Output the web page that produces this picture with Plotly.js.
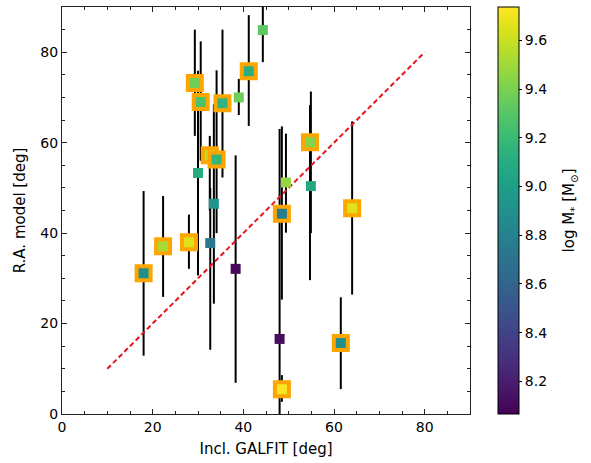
<!DOCTYPE html>
<html>
<head>
<meta charset="utf-8">
<script src="https://cdn.plot.ly/plotly-3.0.1.min.js"></script>
<style>html,body{margin:0;padding:0;background:#fff;}#chart{width:591px;height:463px;}</style>
</head>
<body>
<div id="chart"></div>
<script>
// Inclination from GALFIT [deg]
var inclGalfit = [18.0, 22.3, 28.0, 29.3, 30.0, 30.6, 32.6, 34.1, 33.5, 32.7, 35.4, 38.3, 39.0, 41.2, 44.3, 48.0, 48.5, 48.5, 49.4, 54.7, 54.9, 61.5, 64.0];
// R.A. model inclination [deg]
var raModel   = [31.1, 37.1, 38.0, 73.2, 53.3, 69.0, 57.2, 56.3, 46.5, 37.8, 68.7, 32.1, 70.0, 75.8, 84.9, 16.6, 44.3, 5.5, 51.2, 60.1, 50.4, 15.7, 45.5];
// lower / upper ends of the R.A. model range
var raLow     = [12.9, 25.9, 32.1, 61.5, 30.6, 56.0, 45.0, 40.0, 24.4, 14.2, 52.3, 6.9, 66.1, 63.7, 77.8, -5.0, 25.3, 2.7, 40.1, 29.6, 40.0, 5.5, 26.4];
var raHigh    = [49.3, 48.2, 44.1, 85.0, 75.9, 82.4, 61.5, 76.0, 68.5, 50.0, 85.0, 57.2, 74.1, 88.2, 92.0, 63.0, 63.6, 8.6, 62.0, 68.3, 71.3, 25.8, 64.7];
// log stellar mass
var logMass   = [8.90, 9.52, 9.65, 9.37, 9.10, 9.27, 9.57, 9.17, 8.93, 8.73, 9.15, 8.10, 9.37, 9.12, 9.32, 8.12, 8.77, 9.72, 9.47, 9.43, 9.07, 8.90, 9.65];
// highlighted (orange frame) galaxies
var highlighted = [true, true, true, true, false, true, true, true, false, false, true, false, false, true, false, false, true, true, false, true, false, true, true];
// one-to-one reference line
var refLineX = [10, 80];
var refLineY = [10, 80];
// colour bar ticks
var cbTicks = [8.2, 8.4, 8.6, 8.8, 9.0, 9.2, 9.4, 9.6];
var cbTickText = ['8.2', '8.4', '8.6', '8.8', '9.0', '9.2', '9.4', '9.6'];

var cMin = 8.066, cMax = 9.737;

function pick(arr, flag) {
  var out = [];
  for (var i = 0; i < arr.length; i++) if (highlighted[i] === flag) out.push(arr[i]);
  return out;
}
var errPlus = raHigh.map(function (h, i) { return h - raModel[i]; });
var errMinus = raLow.map(function (l, i) { return raModel[i] - l; });

var traces = [];
traces.push({
  x: inclGalfit, y: raModel, mode: 'markers', type: 'scatter',
  marker: {size: 1, opacity: 0},
  error_y: {type: 'data', symmetric: false, array: errPlus, arrayminus: errMinus,
            color: '#000', thickness: 2, width: 0},
  hoverinfo: 'skip', showlegend: false
});
traces.push({
  x: refLineX, y: refLineY, mode: 'lines', type: 'scatter',
  line: {color: '#e8141a', width: 2, dash: '5px,3px'}, showlegend: false
});
traces.push({
  x: pick(inclGalfit, false), y: pick(raModel, false), mode: 'markers', type: 'scatter',
  marker: {symbol: 'square', size: 10, color: pick(logMass, false), colorscale: 'Viridis',
           cmin: cMin, cmax: cMax, showscale: false, line: {width: 0}},
  showlegend: false
});
traces.push({
  x: pick(inclGalfit, true), y: pick(raModel, true), mode: 'markers', type: 'scatter',
  marker: {symbol: 'square', size: 14, color: pick(logMass, true), colorscale: 'Viridis',
           cmin: cMin, cmax: cMax, line: {width: 4, color: '#ffa500'},
           showscale: true,
           colorbar: {
             x: 1.0686, xanchor: 'left', xpad: 0, y: 0, yanchor: 'bottom', ypad: 0,
             len: 1, lenmode: 'fraction', thickness: 21, thicknessmode: 'pixels',
             outlinewidth: 1, outlinecolor: '#000',
             ticks: 'outside', ticklen: 3, tickwidth: 1, tickcolor: '#000',
             tickvals: cbTicks, ticktext: cbTickText,
             tickfont: {family: 'DejaVu Sans', size: 14, color: '#000'}
           }},
  showlegend: false
});

var axisCommon = {
  showgrid: false, zeroline: false, showline: true, linecolor: '#222', linewidth: 1,
  mirror: 'allticks', ticks: 'inside', ticklen: 5, tickwidth: 1, tickcolor: '#222',
  minor: {ticks: 'inside', dtick: 5, ticklen: 3, tickwidth: 1, tickcolor: '#222', showgrid: false},
  tickfont: {family: 'DejaVu Sans', size: 14, color: '#000'},
  range: [0, 90], tick0: 0, dtick: 20, fixedrange: true
};

var layout = {
  width: 591, height: 463,
  margin: {l: 62, r: 121, t: 7, b: 49, pad: 0},
  paper_bgcolor: '#fff', plot_bgcolor: '#fff',
  showlegend: false,
  xaxis: Object.assign({}, axisCommon, {
    title: {text: 'Incl. GALFIT [deg]', standoff: 9, font: {family: 'DejaVu Sans', size: 15, color: '#000'}}
  }),
  yaxis: Object.assign({}, axisCommon, {
    title: {text: 'R.A. model [deg]', standoff: 11, font: {family: 'DejaVu Sans', size: 15, color: '#000'}}
  }),
  annotations: [{
    text: 'log M<sub>*</sub> [M<sub>⊙</sub>]', textangle: -90, showarrow: false,
    xref: 'paper', yref: 'paper', x: 1.245, y: 0.5, xanchor: 'center', yanchor: 'middle',
    font: {family: 'DejaVu Sans', size: 15, color: '#000'}
  }]
};

Plotly.newPlot('chart', traces, layout, {staticPlot: true, displayModeBar: false});
</script>
</body>
</html>
